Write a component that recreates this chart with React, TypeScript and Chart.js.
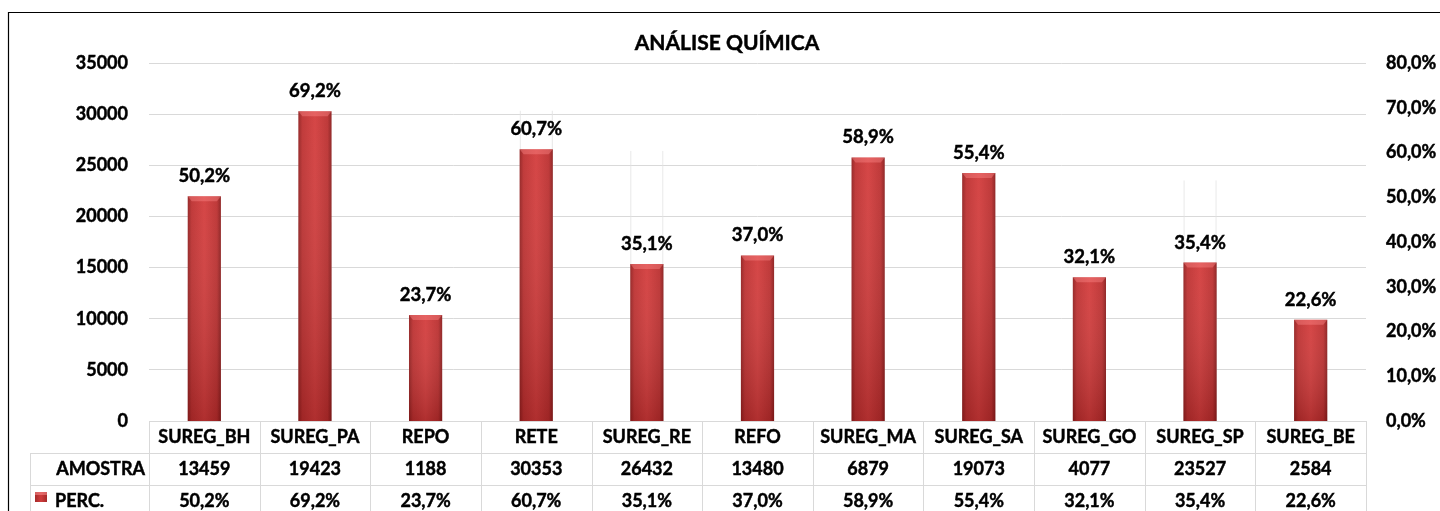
import { useEffect, useRef } from 'react';
import { Chart, registerables } from 'chart.js';

Chart.register(...registerables);

// ---------- data ----------
const categories = ['SUREG_BH', 'SUREG_PA', 'REPO', 'RETE', 'SUREG_RE', 'REFO', 'SUREG_MA', 'SUREG_SA', 'SUREG_GO', 'SUREG_SP', 'SUREG_BE'];
const amostra = [13459, 19423, 1188, 30353, 26432, 13480, 6879, 19073, 4077, 23527, 2584];
const perc = [50.2, 69.2, 23.7, 60.7, 35.1, 37.0, 58.9, 55.4, 32.1, 35.4, 22.6];
const leftAxis = { min: 0, max: 35000, step: 5000 };
const rightAxis = { min: 0, max: 80, step: 10 };
const TITLE = 'ANÁLISE QUÍMICA';
const ROW_AMOSTRA = 'AMOSTRA';
const ROW_PERC = 'PERC.';

// ---------- style ----------
const FONT = 'Lato, "Noto Sans", sans-serif';
const BAR_PCT = 0.3;
const GRID = '#d9d9d9';
const TXT = 18;
const STROKE = 0.45;

const fmtPct = (v: number) => v.toFixed(1).replace('.', ',') + '%';

function barFill(c: any) {
  const chart = c.chart;
  const area = chart.chartArea;
  const xs = chart.scales && chart.scales.x;
  if (!area || !xs || c.dataIndex === undefined) return '#c83a3a';
  const cx = xs.getPixelForValue(c.dataIndex);
  const half = ((area.right - area.left) / categories.length) * BAR_PCT / 2;
  const g = chart.ctx.createLinearGradient(cx - half, 0, cx + half, 0);
  g.addColorStop(0, '#921f1f');
  g.addColorStop(0.12, '#bd3030');
  g.addColorStop(0.5, '#d33c3c');
  g.addColorStop(0.88, '#bb2f2f');
  g.addColorStop(1, '#8a1c1c');
  return g;
}

function boldText(ctx: CanvasRenderingContext2D, s: string, x: number, y: number) {
  ctx.lineWidth = STROKE;
  ctx.strokeStyle = '#000';
  ctx.strokeText(s, x, y);
  ctx.fillText(s, x, y);
}

const framePlugin = {
  id: 'frame',
  beforeDraw(chart: any) {
    const ctx = chart.ctx;
    ctx.save();
    ctx.fillStyle = '#ffffff';
    ctx.fillRect(0, 0, chart.width, chart.height);
    ctx.strokeStyle = '#000000';
    ctx.lineWidth = 1.2;
    ctx.beginPath();
    ctx.moveTo(8.5, chart.height + 2);
    ctx.lineTo(8.5, 12.5);
    ctx.lineTo(chart.width + 2, 12.5);
    ctx.stroke();
    // title
    ctx.fillStyle = '#000';
    ctx.font = `bold 21px ${FONT}`;
    ctx.textAlign = 'center';
    ctx.textBaseline = 'middle';
    boldText(ctx, TITLE, 727, 43);
    ctx.restore();
  },
};

const barDecorPlugin = {
  id: 'barDecor',
  afterDatasetsDraw(chart: any) {
    const ctx = chart.ctx;
    const meta = chart.getDatasetMeta(0);
    ctx.save();
    meta.data.forEach((el: any, i: number) => {
      const { x, y, base, width } = el.getProps(['x', 'y', 'base', 'width'], true);
      const left = x - width / 2;
      const right = x + width / 2;
      const vg = ctx.createLinearGradient(0, y, 0, base);
      vg.addColorStop(0, 'rgba(255,255,255,0.05)');
      vg.addColorStop(1, 'rgba(50,0,0,0.22)');
      ctx.fillStyle = vg;
      ctx.fillRect(left, y, width, base - y);
      ctx.beginPath();
      ctx.moveTo(left, y);
      ctx.lineTo(right, y);
      ctx.lineTo(right - 4, y + 5);
      ctx.lineTo(left + 4, y + 5);
      ctx.closePath();
      ctx.fillStyle = 'rgba(255,140,140,0.4)';
      ctx.fill();
      ctx.fillStyle = '#000';
      ctx.font = `bold 18.5px ${FONT}`;
      ctx.textAlign = 'center';
      ctx.textBaseline = 'middle';
      boldText(ctx, fmtPct(perc[i]), x, y - 20);
    });
    ctx.restore();
  },
};

const tablePlugin = {
  id: 'dataTable',
  afterDraw(chart: any) {
    const ctx = chart.ctx;
    const area = chart.chartArea;
    const n = categories.length;
    const colW = (area.right - area.left) / n;
    const top = area.bottom;
    const r1 = top + 32;
    const r2 = top + 64;
    const bottom = chart.height + 5;
    const labelLeft = 30;
    ctx.save();
    ctx.strokeStyle = GRID;
    ctx.lineWidth = 1;
    const hline = (y: number, x0: number, x1: number) => {
      ctx.beginPath();
      ctx.moveTo(x0, Math.round(y) + 0.5);
      ctx.lineTo(x1, Math.round(y) + 0.5);
      ctx.stroke();
    };
    const vline = (x: number, y0: number, y1: number) => {
      ctx.beginPath();
      ctx.moveTo(Math.round(x) + 0.5, y0);
      ctx.lineTo(Math.round(x) + 0.5, y1);
      ctx.stroke();
    };
    hline(top, area.left, area.right);
    hline(r1, labelLeft, area.right);
    hline(r2, labelLeft, area.right);
    for (let i = 0; i <= n; i++) vline(area.left + i * colW, top, bottom);
    vline(labelLeft, r1, bottom);

    ctx.fillStyle = '#000';
    ctx.font = `bold ${TXT}px ${FONT}`;
    ctx.textBaseline = 'middle';
    ctx.textAlign = 'center';
    const xs = chart.scales.x;
    categories.forEach((c, i) => {
      const cx = xs.getPixelForValue(i);
      boldText(ctx, c, cx, top + 16);
      boldText(ctx, String(amostra[i]), cx, r1 + 16);
      boldText(ctx, fmtPct(perc[i]), cx, r2 + 16);
    });
    ctx.textAlign = 'right';
    boldText(ctx, ROW_AMOSTRA, area.left - 4, r1 + 16);
    ctx.textAlign = 'left';
    boldText(ctx, ROW_PERC, 55, r2 + 16);
    // legend key
    const kg = ctx.createLinearGradient(35, 0, 47, 0);
    kg.addColorStop(0, '#a52a2a');
    kg.addColorStop(0.5, '#cf3c3c');
    kg.addColorStop(1, '#a52a2a');
    ctx.fillStyle = kg;
    ctx.fillRect(35, r2 + 7, 12, 10);
    ctx.fillStyle = 'rgba(255,150,150,0.5)';
    ctx.fillRect(35, r2 + 7, 12, 3);
    ctx.restore();
  },
};

export default function App() {
  const ref = useRef<HTMLCanvasElement | null>(null);

  useEffect(() => {
    if (!ref.current) return;
    const tickFont = { family: FONT, size: TXT, weight: 'bold' };
    const chart = new Chart(ref.current, {
      type: 'bar',
      data: {
        labels: categories,
        datasets: [
          {
            label: ROW_PERC,
            data: perc,
            yAxisID: 'y1',
            backgroundColor: barFill as any,
            borderWidth: 0,
            grouped: false,
            order: 0,
            barPercentage: BAR_PCT,
            categoryPercentage: 1,
          },
          {
            label: ROW_AMOSTRA,
            data: amostra,
            yAxisID: 'y',
            backgroundColor: 'rgba(255,255,255,0)',
            borderColor: '#e2e2e2',
            borderWidth: { left: 1, right: 1, top: 0, bottom: 0 } as any,
            grouped: false,
            order: 1,
            barPercentage: BAR_PCT,
            categoryPercentage: 1,
          },
        ],
      },
      options: {
        responsive: false,
        animation: false,
        devicePixelRatio: 1,
        layout: { padding: { top: 63, bottom: 90, left: 0, right: 0 } },
        plugins: {
          legend: { display: false },
          title: { display: false },
          tooltip: { enabled: false },
        },
        scales: {
          x: {
            display: false,
            offset: true,
          },
          y: {
            position: 'left',
            min: leftAxis.min,
            max: leftAxis.max,
            border: { display: false },
            grid: { color: GRID, drawTicks: false, lineWidth: 1 },
            ticks: {
              stepSize: leftAxis.step,
              padding: 21,
              color: '#000',
              textStrokeColor: '#000',
              textStrokeWidth: STROKE,
              font: tickFont,
              callback: (v: any) => String(v),
            },
            afterFit: (s: any) => { s.width = 149; },
          },
          y1: {
            position: 'right',
            min: rightAxis.min,
            max: rightAxis.max,
            border: { display: false },
            grid: { display: false, drawTicks: false },
            ticks: {
              stepSize: rightAxis.step,
              padding: 20,
              color: '#000',
              textStrokeColor: '#000',
              textStrokeWidth: STROKE,
              font: tickFont,
              callback: (v: any) => fmtPct(Number(v)),
            },
            afterFit: (s: any) => { s.width = 74; },
          },
        },
      } as any,
      plugins: [framePlugin, barDecorPlugin, tablePlugin],
    });
    return () => chart.destroy();
  }, []);

  return (
    <div style={{ position: 'fixed', left: 0, top: 0, width: 1440, height: 511, background: '#fff' }}>
      <canvas ref={ref} width={1440} height={511} style={{ width: 1440, height: 511, display: 'block' }} />
    </div>
  );
}
